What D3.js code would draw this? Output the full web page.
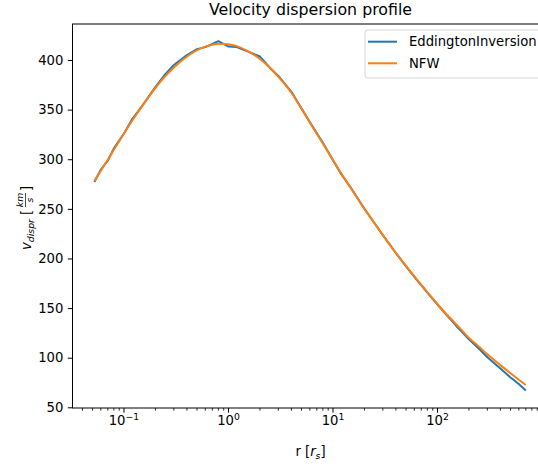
<!DOCTYPE html>
<html>
<head>
<meta charset="utf-8">
<script src="https://cdn.jsdelivr.net/npm/d3@7"></script>
<style>
  body { margin: 0; background: #fff; }
  svg { display: block; font-family: "DejaVu Sans", sans-serif; }
</style>
</head>
<body>
<script>
// radius in units of r_s
const radius = [0.052, 0.06, 0.07, 0.08, 0.1, 0.12, 0.15, 0.2, 0.25, 0.3, 0.4, 0.5, 0.6, 0.8,
  1, 1.2, 1.5, 2, 2.5, 3, 4, 5, 6, 8, 10, 12, 15, 20, 25, 30, 40, 50, 60, 80,
  100, 120, 150, 200, 250, 300, 400, 500, 600, 700]

// NFW analytic profile (smooth)
const nfw = [278, 288.5, 299.5, 309.5, 326, 339, 354, 372, 384, 392.5, 403.5, 410, 413.5, 416.5,
  416, 414, 409.5, 401, 392, 383, 367, 351, 337, 316, 299, 285.5, 270, 250, 235.5, 223.5, 205.5, 192.5, 182, 166,
  154, 144.5, 134, 120, 111, 103.5, 92.5, 84.3, 77.8, 72.5]

// Eddington inversion (noisy, drops below NFW at large r)
const eddington = [277, 289.5, 298.5, 311, 326, 340.5, 354, 373, 386, 395, 405, 411, 413, 419,
  413.5, 413, 409, 403.5, 392, 384, 368, 351, 337.5, 316.5, 299, 285, 270.5, 250, 235.5, 223.5, 205.5, 192, 181.5, 165.5,
  153.5, 144, 132.5, 118.5, 109, 100.5, 89, 80, 73.5, 67]

const yTicks = [50, 100, 150, 200, 250, 300, 350, 400]
const xMajor = [0.1, 1, 10, 100]
const xMajorExp = ['\u22121', '0', '1', '2']

const width = 538, height = 468
const mLeft = 72.5, mRight = 548.5, mTop = 24, mBottom = 408
const fs = 13.2

const svg = d3.select('body')
  .append('svg')
  .attr('width', width)
  .attr('height', height)

const x = d3.scaleLog()
  .domain([0.03215, 1154])
  .range([mLeft, mRight])

const y = d3.scaleLinear()
  .domain([49.3, 436.3])
  .range([mBottom, mTop])

// clip lines to the axes box
svg.append('clipPath').attr('id', 'plot')
  .append('rect')
  .attr('x', mLeft).attr('y', mTop)
  .attr('width', mRight - mLeft).attr('height', mBottom - mTop)

const line = (vals, curve) => d3.line()
  .x((d, i) => x(radius[i]))
  .y((d) => y(d))
  .curve(curve)(vals)

const g = svg.append('g').attr('clip-path', 'url(#plot)')
g.append('path')
  .attr('d', line(eddington, d3.curveLinear))
  .attr('fill', 'none')
  .attr('stroke', '#1f77b4')
  .attr('stroke-width', 2)
  .attr('stroke-linejoin', 'round')
g.append('path')
  .attr('d', line(nfw, d3.curveMonotoneX))
  .attr('fill', 'none')
  .attr('stroke', '#ff7f0e')
  .attr('stroke-width', 2)

// spines
svg.append('rect')
  .attr('x', mLeft).attr('y', mTop)
  .attr('width', mRight - mLeft).attr('height', mBottom - mTop)
  .attr('fill', 'none')
  .attr('stroke', '#000')
  .attr('stroke-width', 1)

// y axis
const yAxis = d3.axisLeft(y)
  .tickValues(yTicks)
  .tickSize(4.7)
  .tickPadding(4.5)
  .tickFormat(d3.format('d'))
const yg = svg.append('g')
  .attr('transform', `translate(${mLeft},0)`)
  .call(yAxis)
yg.select('.domain').remove()
yg.selectAll('text').attr('font-size', fs).attr('fill', '#000').attr('font-family', 'DejaVu Sans')
yg.selectAll('line').attr('stroke-width', 1)

// x axis: minor ticks
const minor = []
for (let e = -2; e <= 3; e++) {
  for (let m = 2; m <= 9; m++) {
    const v = m * Math.pow(10, e)
    if (v > x.domain()[0] && v < x.domain()[1]) minor.push(v)
  }
}
svg.append('g')
  .selectAll('line')
  .data(minor)
  .join('line')
  .attr('x1', (d) => x(d))
  .attr('x2', (d) => x(d))
  .attr('y1', mBottom)
  .attr('y2', mBottom + 2.7)
  .attr('stroke', '#000')
  .attr('stroke-width', 0.8)

const xg = svg.append('g')
xg.selectAll('line')
  .data(xMajor)
  .join('line')
  .attr('x1', (d) => x(d))
  .attr('x2', (d) => x(d))
  .attr('y1', mBottom)
  .attr('y2', mBottom + 4.7)
  .attr('stroke', '#000')
  .attr('stroke-width', 1)

const xt = xg.selectAll('text')
  .data(xMajor)
  .join('text')
  .attr('x', (d) => x(d))
  .attr('y', 425)
  .attr('text-anchor', 'middle')
  .attr('font-size', fs)
  .attr('fill', '#000')
xt.append('tspan').text('10')
xt.append('tspan')
  .attr('dy', -5.5)
  .attr('font-size', 9.3)
  .text((d, i) => xMajorExp[i])

// title
svg.append('text')
  .attr('x', (mLeft + mRight) / 2)
  .attr('y', 15)
  .attr('text-anchor', 'middle')
  .attr('font-size', 15.8)
  .attr('fill', '#000')
  .text('Velocity dispersion profile')

// x label: r [r_s]
const xl = svg.append('text')
  .attr('x', (mLeft + mRight) / 2)
  .attr('y', 456)
  .attr('text-anchor', 'middle')
  .attr('font-size', fs)
  .attr('fill', '#000')
xl.append('tspan').text('r [')
xl.append('tspan').attr('font-style', 'italic').text('r')
xl.append('tspan').attr('font-style', 'italic').attr('font-size', 9.3).attr('dy', 3).text('s')
xl.append('tspan').attr('dy', -3).text(']')

// y label: v_dispr [km/s]
const yl = svg.append('g')
  .attr('transform', 'translate(31,215) rotate(-90)')
const ylt = yl.append('text')
  .attr('x', -35)
  .attr('y', 0)
  .attr('font-size', fs)
  .attr('fill', '#000')
ylt.append('tspan').attr('font-style', 'italic').text('v')
ylt.append('tspan').attr('font-style', 'italic').attr('font-size', 9.3).attr('dy', 3).text('dispr')
ylt.append('tspan').attr('dy', -3).text(' [')
yl.append('text')
  .attr('x', 15).attr('y', -8)
  .attr('text-anchor', 'middle')
  .attr('font-size', 9.3).attr('font-style', 'italic').attr('fill', '#000')
  .text('km')
yl.append('line')
  .attr('x1', 8).attr('x2', 22)
  .attr('y1', -5.5).attr('y2', -5.5)
  .attr('stroke', '#000').attr('stroke-width', 0.7)
yl.append('text')
  .attr('x', 15).attr('y', 2)
  .attr('text-anchor', 'middle')
  .attr('font-size', 9.3).attr('font-style', 'italic').attr('fill', '#000')
  .text('s')
yl.append('text')
  .attr('x', 24).attr('y', 0)
  .attr('font-size', fs).attr('fill', '#000')
  .text(']')

// legend
const series = [
  { name: 'EddingtonInversion', color: '#1f77b4' },
  { name: 'NFW', color: '#ff7f0e' }
]
const lg = svg.append('g').attr('transform', 'translate(365,30)')
lg.append('rect')
  .attr('x', 0).attr('y', 0)
  .attr('width', 178).attr('height', 48)
  .attr('rx', 3)
  .attr('fill', '#fff')
  .attr('fill-opacity', 0.8)
  .attr('stroke', '#d6d6d6')
  .attr('stroke-width', 1)
const items = lg.selectAll('g.item')
  .data(series)
  .join('g')
  .attr('transform', (d, i) => `translate(0,${11.7 + i * 21.6})`)
items.append('line')
  .attr('x1', 3).attr('x2', 32)
  .attr('stroke', (d) => d.color)
  .attr('stroke-width', 2)
items.append('text')
  .attr('x', 44)
  .attr('y', 4.7)
  .attr('font-size', fs)
  .attr('fill', '#000')
  .text((d) => d.name)
</script>
</body>
</html>
